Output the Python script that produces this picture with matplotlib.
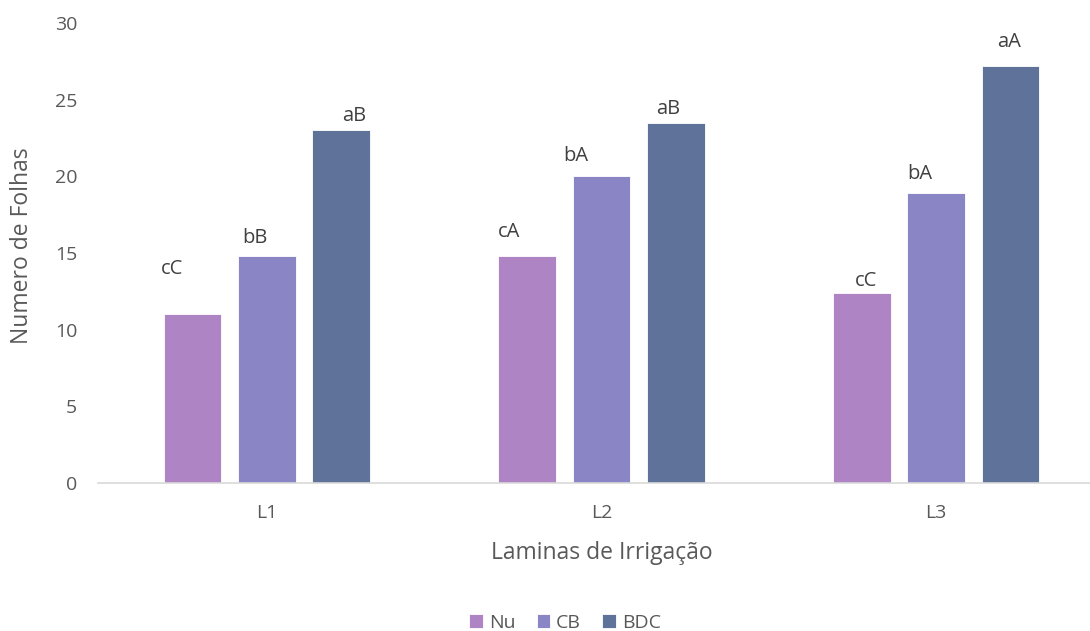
import numpy as np
import matplotlib.pyplot as plt

# dados
laminas = ['L1', 'L2', 'L3']
series = ['Nu', 'CB', 'BDC']
nu = [11.0, 14.8, 12.4]
cb = [14.8, 20.0, 18.9]
bdc = [23.0, 23.5, 27.2]
letras_nu = ['cC', 'cA', 'cC']
letras_cb = ['bB', 'bA', 'bA']
letras_bdc = ['aB', 'aB', 'aA']

cores = ['#AE84C5', '#8A86C6', '#5F7299']
cinza = '#595959'

# deslocamento dos rotulos (pixels) em relacao ao topo de cada barra
desloc = [
    [(-20, 45), (-18, 24), (4, 12)],
    [(-12, 18), (-26, 20), (-16, 19)],
    [(13, 14), (-8, 14), (-1, 24)],
]

plt.rcParams['font.family'] = ['Open Sans', 'DejaVu Sans']

fig = plt.figure(figsize=(10.9, 6.31), dpi=100)
ax = fig.add_axes([98 / 1090, 1 - 483 / 631, (1090 - 98) / 1090, 460 / 631])

x = np.arange(len(laminas))
largura = 0.173
passo = 0.2224

valores = [nu, cb, bdc]
letras = [letras_nu, letras_cb, letras_bdc]
for i, (vals, nome) in enumerate(zip(valores, series)):
    pos = x + (i - 1) * passo
    barras = ax.bar(pos, vals, width=largura, color=cores[i], label=nome,
                    edgecolor='white', linewidth=0.6, zorder=2)
    for j, b in enumerate(barras):
        dx, dy = desloc[i][j]
        ax.annotate(letras[i][j], (b.get_x() + b.get_width() / 2, b.get_height()),
                    xytext=(dx, dy), textcoords='offset pixels',
                    ha='center', va='center', fontsize=14.5, color='#404040')

ax.set_xlim(-0.505, 2.46)
ax.set_ylim(0, 30)
ax.set_yticks(range(0, 31, 5))
ax.set_xticks(x)
ax.set_xticklabels(laminas)
ax.tick_params(axis='both', length=0, labelsize=14, colors=cinza)
ax.tick_params(axis='y', pad=15)
ax.tick_params(axis='x', pad=15)

for s in ['top', 'right', 'left']:
    ax.spines[s].set_visible(False)
ax.spines['bottom'].set_color('#D9D9D9')
ax.spines['bottom'].set_linewidth(1.2)

ax.set_xlabel('Laminas de Irrigação', fontsize=16.5, color=cinza, labelpad=14)
# titulo do eixo x centrado na categoria do meio
ax.xaxis.label.set_x((1 + 0.505) / (2.46 + 0.505))
fig.text(22 / 1090, 1 - 246 / 631, 'Numero de Folhas', rotation=90,
         ha='center', va='center', fontsize=16.5, color=cinza)

fig.legend(loc='center', bbox_to_anchor=(565 / 1090, 1 - 623 / 631), ncol=3,
           frameon=False, fontsize=14, handlelength=0.7, handleheight=0.7,
           handletextpad=0.3, columnspacing=1.1, labelcolor=cinza)

fig.savefig('out.png', dpi=100)
